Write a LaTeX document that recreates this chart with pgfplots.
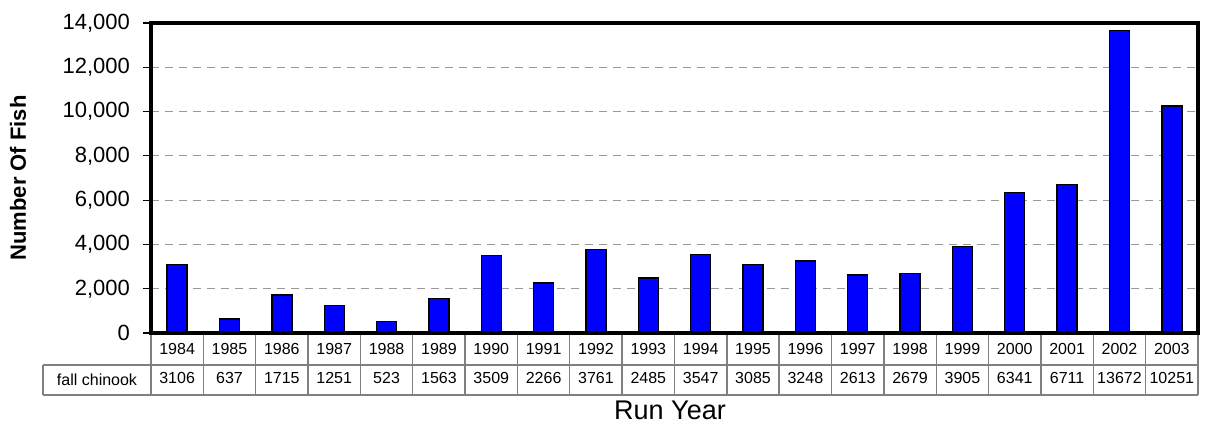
\documentclass[border=0pt]{standalone}
\usepackage{pgfplots}
\pgfplotsset{compat=1.18}
\usepackage{pgfplotstable}
\usepackage{fontspec}
\setmainfont{Liberation Sans}
\pgfplotstableread{
idx year value
0 1984 3106
1 1985 637
2 1986 1715
3 1987 1251
4 1988 523
5 1989 1563
6 1990 3509
7 1991 2266
8 1992 3761
9 1993 2485
10 1994 3547
11 1995 3085
12 1996 3248
13 1997 2613
14 1998 2679
15 1999 3905
16 2000 6341
17 2001 6711
18 2002 13672
19 2003 10251
}\fishdata
\definecolor{tablegray}{RGB}{128,128,128}
\begin{document}
\begin{tikzpicture}
\begin{axis}[
  scale only axis, width=523.5pt, height=155pt,
  xmin=-0.5, xmax=19.5, ymin=0, ymax=14000,
  clip=false,
  axis line style={line width=2pt},
  ytick={0,2000,...,14000},
  scaled y ticks=false,
  ytick pos=left,
  yticklabel style={font=\fontsize{11}{13}\selectfont, xshift=-3pt, /pgf/number format/fixed, /pgf/number format/1000 sep={,}, /pgf/number format/assume math mode=true},
  ytick style={draw=black, line width=0.6pt},
  tick align=outside,
  major tick length=4pt,
  ymajorgrids,
  grid style={draw=gray!80, dash pattern=on 4pt off 3pt, line width=0.5pt},
  xtick={0,...,19},
  xticklabels={1984,1985,1986,1987,1988,1989,1990,1991,1992,1993,1994,1995,1996,1997,1998,1999,2000,2001,2002,2003},
  xtick style={draw=none},
  xticklabel style={font=\fontsize{8}{9}\selectfont, anchor=base, yshift=-6.9pt},
  extra x ticks={0,...,19},
  extra x tick labels={3106,637,1715,1251,523,1563,3509,2266,3761,2485,3547,3085,3248,2613,2679,3905,6341,6711,13672,10251},
  extra x tick style={grid=none, xticklabel style={yshift=-14.5pt}},
  ylabel={\bfseries Number Of Fish},
  every axis y label/.style={at={(axis description cs:-0.127,0.5)}, rotate=90, anchor=center, font=\fontsize{11}{13}\selectfont},
  xlabel={Run Year},
  every axis x label/.style={at={(axis description cs:0.4957,-0.248)}, anchor=center, font=\fontsize{13.5}{15}\selectfont},
]
\addplot[ybar, bar width=10pt, fill=blue, draw=black, line width=0.7pt] table[x=idx, y=value] {\fishdata};
% data table grid
\draw[tablegray, line width=0.7pt] (axis cs:-2.563,-1445) -- (axis cs:19.5,-1445);
\draw[tablegray, line width=0.7pt] (axis cs:-2.563,-2800) -- (axis cs:19.5,-2800);
\draw[tablegray, line width=0.7pt] (axis cs:-2.563,-1445) -- (axis cs:-2.563,-2800);
\pgfplotsinvokeforeach{-0.5,0.5,1.5,2.5,3.5,4.5,5.5,6.5,7.5,8.5,9.5,10.5,11.5,12.5,13.5,14.5,15.5,16.5,17.5,18.5,19.5}{
  \draw[tablegray, line width=0.7pt] (axis cs:#1,0) -- (axis cs:#1,-2800);
}
\draw[black, line width=2pt] (rel axis cs:0,0) rectangle (rel axis cs:1,1);
\node[font=\fontsize{8}{9}\selectfont, anchor=center] at (axis cs:-1.531,-2123) {fall chinook};
\path (axis description cs:-0.1442,-0.3065) rectangle (axis description cs:1.00764,1.0742);
\end{axis}
\end{tikzpicture}
\end{document}
